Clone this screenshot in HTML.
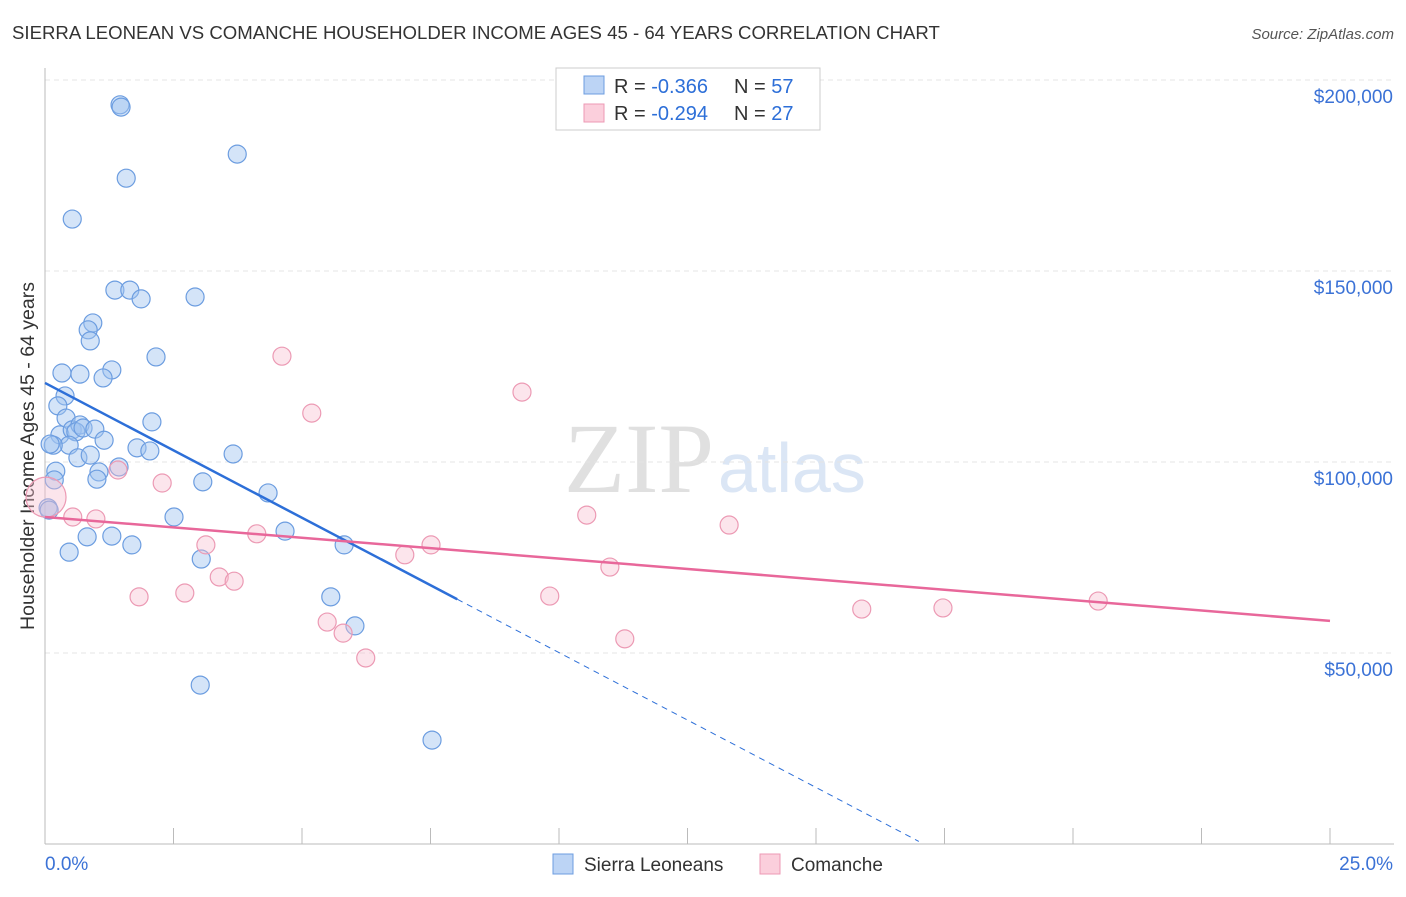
<!DOCTYPE html>
<html><head><meta charset="utf-8"><style>
body{margin:0;background:#fff;font-family:"Liberation Sans",sans-serif;}
</style></head><body>
<svg width="1406" height="892" xmlns="http://www.w3.org/2000/svg" font-family="Liberation Sans, sans-serif">
<text x="12" y="39" font-size="18.6" fill="#333">SIERRA LEONEAN VS COMANCHE HOUSEHOLDER INCOME AGES 45 - 64 YEARS CORRELATION CHART</text>
<text x="1394" y="39" font-size="15" fill="#555" font-style="italic" text-anchor="end">Source: ZipAtlas.com</text>
<text x="714" y="492" font-size="100" fill="#e0e0e0" font-family="Liberation Serif, serif" text-anchor="end">ZIP</text>
<text x="718" y="492" font-size="70" fill="#dbe6f5">atlas</text>
<text transform="translate(34,456) rotate(-90)" font-size="19.5" fill="#333" text-anchor="middle">Householder Income Ages 45 - 64 years</text>
<g id="grid"></g><g id="axes"></g><g id="marks"></g><g id="lines"></g>
<g>
<rect x="556" y="68" width="264" height="62" fill="#fff" stroke="#ccc"/>
<rect x="584" y="76" width="20" height="18" fill="#bcd4f5" stroke="#6c9de0"/>
<rect x="584" y="104" width="20" height="18" fill="#fbcfdc" stroke="#ec9ab4"/>
<g font-size="20" fill="#333">
<text x="614" y="93">R = <tspan fill="#2d6fd8">-0.366</tspan></text>
<text x="734" y="93">N = <tspan fill="#2d6fd8">57</tspan></text>
<text x="614" y="120">R = <tspan fill="#2d6fd8">-0.294</tspan></text>
<text x="734" y="120">N = <tspan fill="#2d6fd8">27</tspan></text>
</g>
</g>
<g>
<rect x="553" y="854" width="20" height="20" fill="#bcd4f5" stroke="#6c9de0"/>
<text x="584" y="871" font-size="19" fill="#333">Sierra Leoneans</text>
<rect x="760" y="854" width="20" height="20" fill="#fbcfdc" stroke="#ec9ab4"/>
<text x="791" y="871" font-size="19" fill="#333">Comanche</text>
</g>
</svg>
<script>
const xTicks=[0,2.5,5,7.5,10,12.5,15,17.5,20,22.5,25];
const yTicks=[50000,100000,150000,200000];
const yTickLabels=["$50,000","$100,000","$150,000","$200,000"];
const blueX=[1.46,1.48,3.74,1.58,0.53,1.36,1.65,1.87,2.92,0.93,0.84,0.88,2.16,0.33,0.68,1.30,1.13,0.39,0.25,0.41,2.08,0.29,0.53,0.68,0.60,0.74,0.97,1.15,0.47,0.16,0.10,1.79,2.04,3.66,0.64,0.88,1.44,1.05,0.21,1.01,0.18,3.07,4.34,0.06,0.08,2.51,4.67,0.82,1.30,5.82,0.47,1.69,3.04,5.56,6.03,3.02,7.53];
const blueY=[193.5,192.9,180.6,174.3,163.6,145.0,145.0,142.7,143.2,136.4,134.6,131.7,127.5,123.3,123.0,124.1,122.0,117.3,114.7,111.5,110.5,107.1,108.4,109.7,107.9,108.9,108.6,105.7,104.4,104.4,104.7,103.7,102.9,102.1,101.1,101.8,98.7,97.4,97.6,95.5,95.3,94.8,91.9,88.0,87.4,85.6,81.9,80.4,80.6,78.3,76.4,78.3,74.6,64.7,57.1,41.6,27.2];
const pinkX=[0.02,4.61,5.19,9.28,0.54,0.99,1.42,2.28,3.13,4.12,3.39,3.68,1.83,2.72,5.49,5.80,6.24,7.00,7.51,10.54,10.99,9.82,11.28,13.31,15.89,17.47,20.49];
const pinkY=[90.8,127.7,112.8,118.3,85.6,85.1,97.9,94.5,78.3,81.2,69.9,68.8,64.7,65.7,58.1,55.2,48.7,75.7,78.3,86.1,72.5,64.9,53.7,83.5,61.5,61.8,63.6];
const blueTrend=[120.7,-7.06];
const pinkTrend=[85.6,-1.088];
const X=v=>45+v/25*1285;
const Y=k=>844-k*1000/50000*191;
const NS="http://www.w3.org/2000/svg";
function mk(t,a,p){const e=document.createElementNS(NS,t);for(const k in a)e.setAttribute(k,a[k]);p.appendChild(e);return e;}
const grid=document.getElementById('grid'),axes=document.getElementById('axes'),marks=document.getElementById('marks'),lines=document.getElementById('lines');
yTicks.forEach((v,i)=>{
 const g=mk('line',{x1:45,x2:1394,y1:Y(v/1000),y2:Y(v/1000),stroke:'#e4e4e4','stroke-dasharray':'5,4'},grid);
 
 
 const t=mk('text',{x:1393,y:Y(v/1000)+23,'font-size':19,fill:'#3b72d6','text-anchor':'end'},axes);
 t.textContent=yTickLabels[i];
 
 
});
const ax=mk('line',{x1:45,x2:1394,y1:844,y2:844,stroke:'#bbb'},axes);


const ay=mk('line',{x1:45,x2:45,y1:68,y2:844,stroke:'#bbb'},axes);


xTicks.forEach(v=>{const t=mk('line',{x1:X(v),x2:X(v),y1:828,y2:844,stroke:'#bbb'},axes);
 
 });
const l0=mk('text',{x:45,y:870,'font-size':19,fill:'#3b72d6'},axes);l0.textContent='0.0%';


const l1=mk('text',{x:1393,y:870,'font-size':19,fill:'#3b72d6','text-anchor':'end'},axes);l1.textContent='25.0%';


blueX.forEach((x,i)=>{const c=mk('circle',{cx:X(x),cy:Y(blueY[i]),r:9,fill:'rgba(160,196,240,0.45)',stroke:'#6c9de0','stroke-width':1.2},marks);
 
 });
pinkX.forEach((x,i)=>{const c=mk('circle',{cx:X(x),cy:Y(pinkY[i]),r:i===0?20:9,fill:'rgba(248,190,208,0.4)',stroke:'#ec9ab4','stroke-width':1.2},marks);
 
 });
const bEnd=8.02,bDash=17.0;
const b1=mk('line',{x1:X(0),y1:Y(blueTrend[0]),x2:X(bEnd),y2:Y(blueTrend[0]+blueTrend[1]*bEnd),stroke:'#2d6fd8','stroke-width':2.5},lines);


const b2=mk('line',{x1:X(bEnd),y1:Y(blueTrend[0]+blueTrend[1]*bEnd),x2:X(bDash),y2:Y(blueTrend[0]+blueTrend[1]*bDash),stroke:'#2d6fd8','stroke-width':1,'stroke-dasharray':'6,5'},lines);


const p1=mk('line',{x1:X(0),y1:Y(pinkTrend[0]),x2:X(25),y2:Y(pinkTrend[0]+pinkTrend[1]*25),stroke:'#e8679a','stroke-width':2.5},lines);


</script>
</body></html>
